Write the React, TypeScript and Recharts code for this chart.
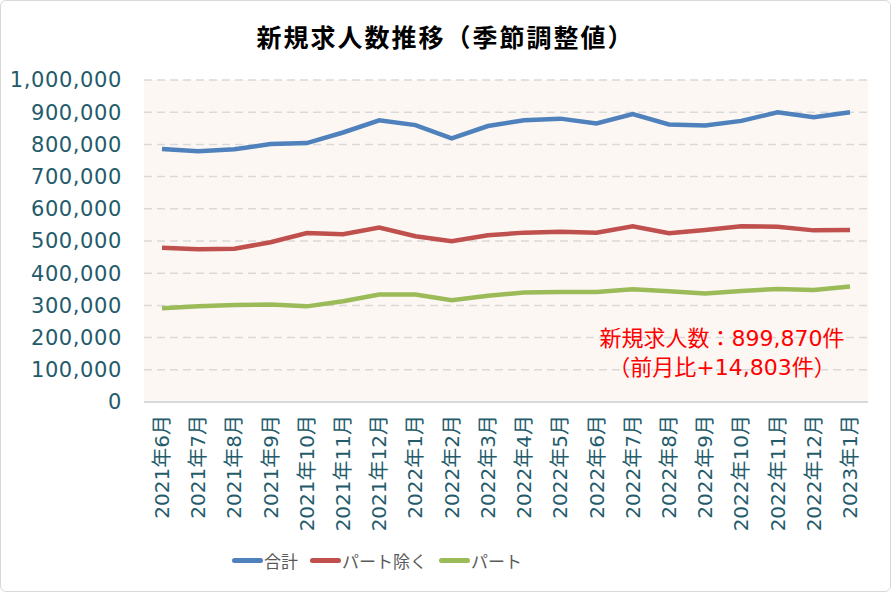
import { LineChart, Line, XAxis, YAxis, CartesianGrid, Legend } from 'recharts';

const months = [
  '2021年6月', '2021年7月', '2021年8月', '2021年9月', '2021年10月', '2021年11月', '2021年12月',
  '2022年1月', '2022年2月', '2022年3月', '2022年4月', '2022年5月', '2022年6月', '2022年7月',
  '2022年8月', '2022年9月', '2022年10月', '2022年11月', '2022年12月', '2023年1月',
];
const total = [
  786000, 779000, 785000, 801000, 804000, 837000, 875000, 860000, 819000, 857000,
  875000, 880000, 865000, 894000, 862000, 859000, 873000, 900000, 884000, 899870,
];
const nonPart = [
  479000, 474000, 476000, 496000, 525000, 521000, 542000, 515000, 499000, 518000,
  526000, 529000, 526000, 546000, 524000, 534000, 546000, 544000, 533000, 534000,
];
const part = [
  291000, 297000, 301000, 303000, 297000, 313000, 334000, 334000, 316000, 330000,
  340000, 342000, 342000, 350000, 344000, 337000, 345000, 351000, 348000, 359000,
];
const yTicks = [0, 100000, 200000, 300000, 400000, 500000, 600000, 700000, 800000, 900000, 1000000];
const seriesOrder = ['合計', 'パート除く', 'パート'];

const data = months.map((m, i) => ({ month: m, total: total[i], nonPart: nonPart[i], part: part[i] }));

const FONT = '"DejaVu Sans", "Noto Sans CJK JP", sans-serif';
const TICK = '#245b6b';

function MonthTick({ x, y, payload }: any) {
  return (
    <text
      transform={`translate(${x},${y + 5}) rotate(-90)`}
      textAnchor="end"
      dominantBaseline="central"
      fontSize={20}
      fontFamily={FONT}
      fill={TICK}
    >
      {payload.value}
    </text>
  );
}

function LegendContent({ payload }: any) {
  const items = [...(payload || [])].sort((a: any, b: any) => seriesOrder.indexOf(a.value) - seriesOrder.indexOf(b.value));
  return (
    <div style={{ display: 'flex', gap: 12, fontFamily: '"Noto Sans CJK JP", sans-serif', fontSize: 17, color: '#595959' }}>
      {items.map((p: any) => (
        <div key={p.value} style={{ display: 'flex', alignItems: 'center' }}>
          <span style={{ display: 'inline-block', width: 31, height: 5, borderRadius: 3, background: p.color, marginRight: 1 }} />
          <span>{p.value}</span>
        </div>
      ))}
    </div>
  );
}

export default function App() {
  return (
    <div style={{ position: 'relative', width: 891, height: 592, background: '#fff' }}>
      <style>{'body{margin:0}'}</style>
      <div style={{ position: 'absolute', inset: 0, border: '1px solid #d9d9d9', borderRadius: 6, pointerEvents: 'none', zIndex: 2 }} />
      <div style={{ position: 'absolute', top: 18, left: 0, width: 891, textAlign: 'center', fontFamily: '"Noto Sans CJK JP", sans-serif', fontWeight: 700, fontSize: 25, letterSpacing: 2, color: '#000' }}>
        新規求人数推移（季節調整値）
      </div>
      <LineChart width={891} height={592} data={data} margin={{ top: 80, right: 23, bottom: 30, left: 0 }}>
        <CartesianGrid vertical={false} stroke="#d9d9d9" strokeWidth={1.5} strokeDasharray="8 5" fill="#fcf7f3" />
        <XAxis
          dataKey="month"
          interval={0}
          height={130}
          padding={{ left: 18, right: 18 }}
          tick={<MonthTick />}
          tickLine={false}
          axisLine={{ stroke: '#d9d9d9', strokeWidth: 2 }}
        />
        <YAxis
          width={144}
          domain={[0, 1000000]}
          ticks={yTicks}
          tickFormatter={(v: number) => v.toLocaleString('en-US')}
          axisLine={false}
          tickLine={false}
          tickMargin={16}
          tick={{ fontSize: 21, fill: TICK, fontFamily: FONT, letterSpacing: 0.6 }}
        />
        <Legend
          height={30}
          verticalAlign="bottom"
          content={<LegendContent />}
          wrapperStyle={{ left: 232, bottom: 14, width: 'auto' }}
        />
        <Line dataKey="total" name="合計" stroke="#4f81bd" strokeWidth={4.5} dot={false} isAnimationActive={false} />
        <Line dataKey="nonPart" name="パート除く" stroke="#c0504d" strokeWidth={4.5} dot={false} isAnimationActive={false} />
        <Line dataKey="part" name="パート" stroke="#9bbb59" strokeWidth={4.5} dot={false} isAnimationActive={false} />
      </LineChart>
      <div style={{ position: 'absolute', left: 560, width: 324, top: 324, textAlign: 'center', fontFamily: FONT, fontSize: 22, lineHeight: '29px', color: '#ff0000' }}>
        <div>新規求人数：899,870件</div>
        <div>（前月比+14,803件）</div>
      </div>
    </div>
  );
}
